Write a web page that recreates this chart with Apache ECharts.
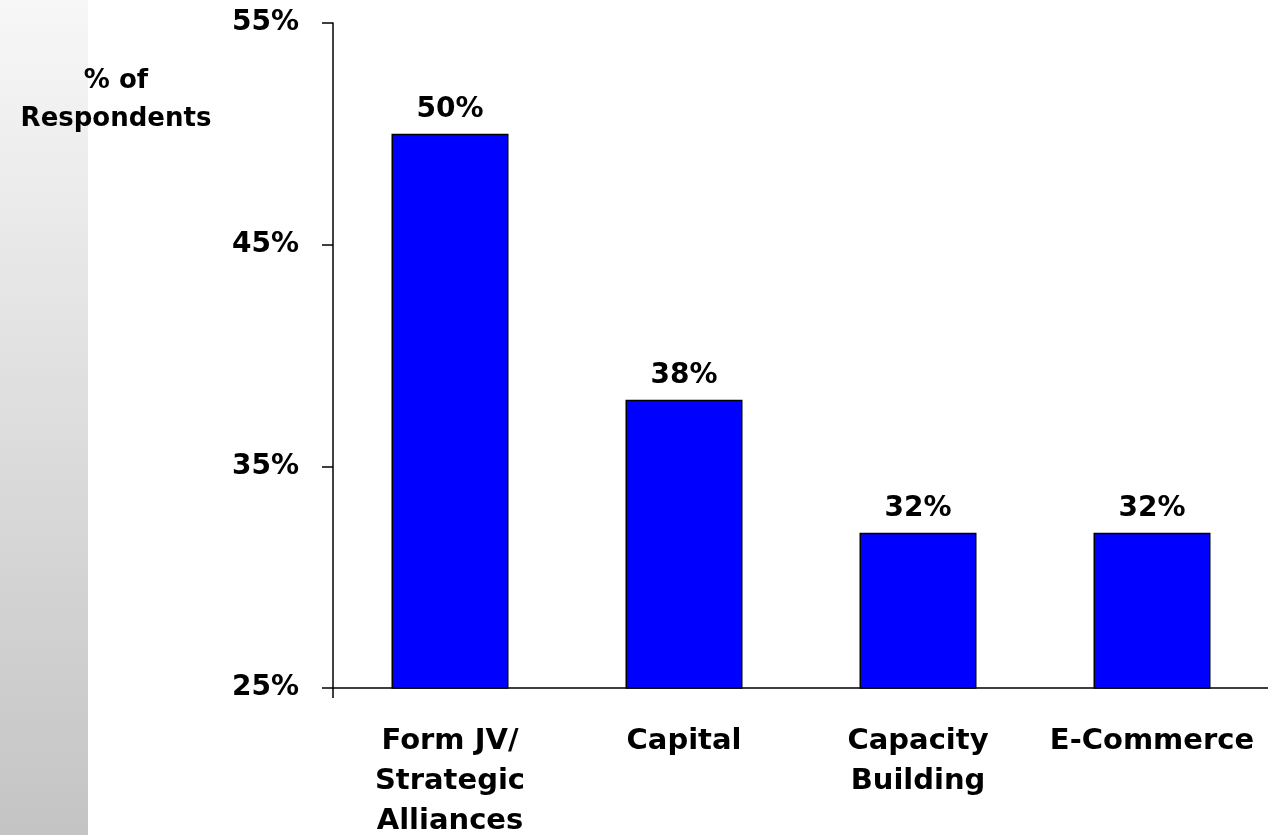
<!DOCTYPE html>
<html>
<head>
<meta charset="utf-8">
<script src="https://cdn.jsdelivr.net/npm/echarts@6/dist/echarts.min.js"></script>
<style>
html,body{margin:0;padding:0;background:#fff;overflow:hidden;}
#c{width:1268px;height:835px;}
</style>
</head>
<body>
<div id="c"></div>
<script>
var categories = ['Form JV/\nStrategic\nAlliances', 'Capital', 'Capacity\nBuilding', 'E-Commerce'];
var values = [50, 38, 32, 32];
var yTicks = { min: 25, max: 55, interval: 10 };
var axisTitle = '% of\nRespondents';

var FONT = '"DejaVu Sans", sans-serif';
var chart = echarts.init(document.getElementById('c'), null, { renderer: 'canvas' });
chart.setOption({
  backgroundColor: '#ffffff',
  animation: false,
  graphic: [
    {
      type: 'rect', left: 0, top: 0, z: -10,
      shape: { width: 88, height: 835 },
      style: {
        fill: new echarts.graphic.LinearGradient(0, 0, 0, 1, [
          { offset: 0, color: '#f7f7f7' },
          { offset: 1, color: '#c4c4c4' }
        ])
      }
    },
    {
      type: 'text', x: 116, y: 100, z: 10,
      style: {
        text: axisTitle, font: 'bold 26px ' + FONT, fill: '#000',
        align: 'center', verticalAlign: 'middle', lineHeight: 38
      }
    }
  ],
  grid: { left: 333, right: -1, top: 23, bottom: 147, containLabel: false, outerBoundsMode: 'none' },
  xAxis: {
    type: 'category',
    data: categories,
    boundaryGap: true,
    axisLine: { show: true, lineStyle: { color: '#000', width: 1.5 } },
    axisTick: { show: true, length: 10, lineStyle: { color: '#000', width: 1.5 },
      interval: function (i) { return i === 0; } },
    axisLabel: {
      interval: 0, margin: 33, color: '#000', fontFamily: FONT,
      fontWeight: 'bold', fontSize: 29, lineHeight: 40
    }
  },
  yAxis: {
    type: 'value',
    min: yTicks.min, max: yTicks.max, interval: yTicks.interval,
    axisLine: { show: true, lineStyle: { color: '#000', width: 1.5 } },
    axisTick: { show: true, inside: false, length: 11, lineStyle: { color: '#000', width: 1.5 } },
    splitLine: { show: false },
    axisLabel: {
      margin: 34, color: '#000', fontFamily: FONT, fontWeight: 'bold', fontSize: 28,
      formatter: '{value}%'
    }
  },
  series: [{
    type: 'bar',
    data: values,
    barWidth: '50%',
    itemStyle: { color: '#0000ff', borderColor: '#000', borderWidth: 1.5 },
    label: {
      show: true, position: 'top', distance: 10, color: '#000',
      fontFamily: FONT, fontWeight: 'bold', fontSize: 28, lineHeight: 28,
      formatter: '{c}%'
    }
  }]
});
</script>
</body>
</html>
